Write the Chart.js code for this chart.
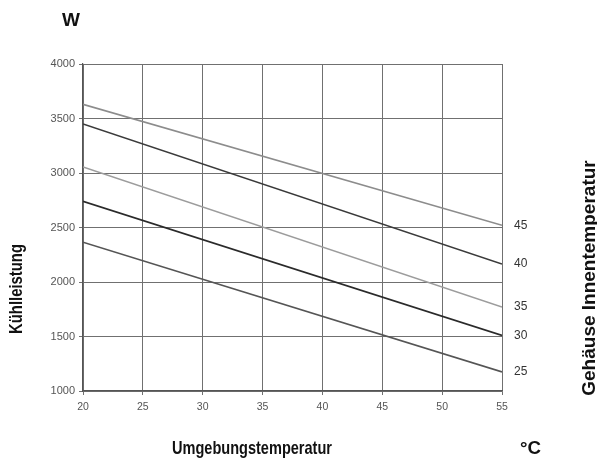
<!DOCTYPE html>
<html lang="de">
<head>
  <meta charset="UTF-8">
  <title>Kühlleistung</title>
  <script src="https://cdn.jsdelivr.net/npm/chart.js"></script>
  <style>
    html, body { margin: 0; padding: 0; background: #fff; }
  </style>
</head>
<body>
  <canvas id="chart" width="597" height="467"></canvas>

  <script>
    // Umgebungstemperatur (°C), Anfang und Ende der Kennlinien
    const ambient = [20, 55];
    // Gehäuse Innentemperatur je Kennlinie
    const innerTemps = ['45', '40', '35', '30', '25'];
    // Kühlleistung (W) bei 20 °C und 55 °C
    const power45 = [3630, 2520];
    const power40 = [3450, 2165];
    const power35 = [3055, 1770];
    const power30 = [2740, 1510];
    const power25 = [2365, 1175];
    const lineColors = ['#8c8c8c', '#3a3a3a', '#9c9c9c', '#2a2a2a', '#555555'];

    const seriesValues = [power45, power40, power35, power30, power25];
    const titleFont = "bold 19px 'Liberation Sans', Arial, sans-serif";
    const tickFont = 'Arial, "Liberation Sans", sans-serif';

    // Beschriftungen am Ende jeder Kennlinie
    const endLabels = {
      id: 'endLabels',
      afterDatasetsDraw(chart) {
        const ctx = chart.ctx;
        const xs = chart.scales.x, ys = chart.scales.y;
        ctx.save();
        ctx.fillStyle = '#333';
        ctx.font = '12px ' + tickFont;
        ctx.textBaseline = 'middle';
        ctx.textAlign = 'left';
        chart.data.datasets.forEach(ds => {
          const last = ds.data[ds.data.length - 1];
          ctx.fillText(ds.label, xs.getPixelForValue(last.x) + 12, ys.getPixelForValue(last.y));
        });
        ctx.restore();
      }
    };

    // Achsentitel, schmal gesetzt
    function label(ctx, text, x, y, width, angle, align) {
      ctx.save();
      ctx.fillStyle = '#111';
      ctx.font = titleFont;
      ctx.textBaseline = 'alphabetic';
      ctx.textAlign = align;
      ctx.translate(x, y);
      ctx.rotate(angle);
      ctx.fillText(text, 0, 0, width);
      ctx.restore();
    }

    const titles = {
      id: 'titles',
      afterDraw(chart) {
        const ctx = chart.ctx;
        label(ctx, 'W', 62, 26, 18, 0, 'left');
        label(ctx, 'Umgebungstemperatur', 172, 454, 160, 0, 'left');
        label(ctx, '°C', 520, 454, 21, 0, 'left');
        label(ctx, 'Kühlleistung', 22, 289, 90, -Math.PI / 2, 'center');
        label(ctx, 'Gehäuse Innentemperatur', 595, 278, 236, -Math.PI / 2, 'center');
      }
    };

    const datasets = innerTemps.map((t, i) => ({
      label: t,
      data: ambient.map((x, j) => ({ x: x, y: seriesValues[i][j] })),
      borderColor: lineColors[i],
      borderWidth: 1.6,
      pointRadius: 0,
      fill: false,
      tension: 0
    }));

    new Chart(document.getElementById('chart'), {
      type: 'line',
      data: { datasets: datasets },
      plugins: [endLabels, titles],
      options: {
        responsive: false,
        animation: false,
        layout: { padding: { left: 0, top: 64, right: 95, bottom: 46 } },
        plugins: { legend: { display: false }, tooltip: { enabled: false } },
        scales: {
          x: {
            type: 'linear',
            min: 20, max: 55,
            afterFit(scale) { scale.height = 30; },
            border: { color: '#555', width: 1.2 },
            grid: { color: '#707070', lineWidth: 1, tickLength: 4 },
            ticks: { stepSize: 5, color: '#555', padding: 6, font: { family: tickFont, size: 10.5 } }
          },
          y: {
            min: 1000, max: 4000,
            afterFit(scale) { scale.width = 83; },
            border: { color: '#555', width: 1.2 },
            grid: { color: '#707070', lineWidth: 1, tickLength: 4 },
            ticks: {
              stepSize: 500, color: '#555', padding: 4,
              font: { family: tickFont, size: 11 },
              callback: v => String(v)
            }
          }
        }
      }
    });
  </script>
</body>
</html>
